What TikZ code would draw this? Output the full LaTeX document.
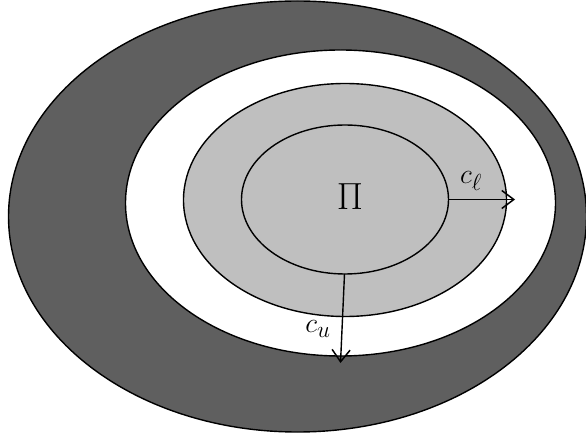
\documentclass[tikz,border=0pt]{standalone}
\usepackage{amsmath}
\usetikzlibrary{arrows.meta}
\begin{document}
\begin{tikzpicture}[x=1pt,y=-1pt,line width=1.4pt,
  ring/.style={draw=black},
  lbl/.style={inner sep=0pt,scale=1.12,font=\fontsize{24.88}{28}\selectfont},
  conn/.style={-{Straight Barb[length=12pt,width=18pt,line width=1.5pt]},line width=1.4pt}]
\useasboundingbox (0,0) rectangle (586,435);
\definecolor{darkg}{HTML}{5F5F5F}
\definecolor{lightg}{HTML}{BFBFBF}
\draw[ring,fill=darkg] (297.5,216.5) ellipse [x radius=289, y radius=215.5];
\draw[ring,fill=white] (340.5,203) ellipse [x radius=215, y radius=153];
\draw[ring,fill=lightg] (345,200) ellipse [x radius=161.5, y radius=116.5];
\draw[ring] (345,199.5) ellipse [x radius=103.5, y radius=74.5];
\node[inner sep=0pt,scale=1.52,font=\fontsize{24.88}{28}\selectfont] (pi) at (350,197) {$\Pi$};
\coordinate (ls) at (448,199.5);
\coordinate (le) at (515,199.5);
\coordinate (us) at (344.5,274);
\coordinate (ue) at (340.5,363);
\draw[conn] (ls) -- (le);
\draw[conn] (us) -- (ue);
\node[lbl] (cl) at (471,181) {$c_\ell$};
\node[lbl] (cu) at (318,329) {$c_u$};
\end{tikzpicture}
\end{document}
